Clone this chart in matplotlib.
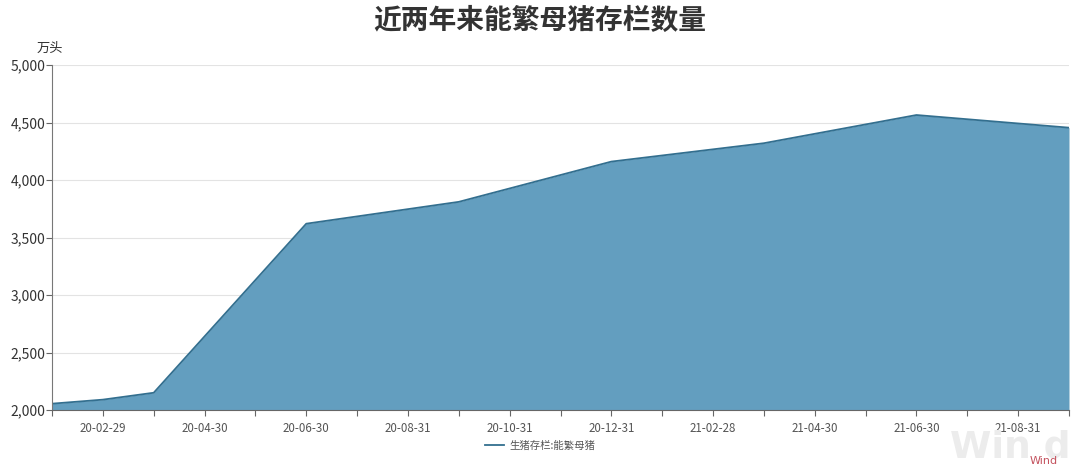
import matplotlib
import matplotlib.pyplot as plt
import numpy as np

matplotlib.use('Agg')

plt.rcParams['font.family'] = ['Noto Sans CJK SC', 'DejaVu Sans']

# month-end categories on the x axis
months = ['20-01-31', '20-02-29', '20-03-31', '20-04-30', '20-05-31', '20-06-30',
          '20-07-31', '20-08-31', '20-09-30', '20-10-31', '20-11-30', '20-12-31',
          '21-01-31', '21-02-28', '21-03-31', '21-04-30', '21-05-31', '21-06-30',
          '21-07-31', '21-08-31', '21-09-30']
# 万头, None where no data was published
sows = [2055, 2090, 2150, None, None, 3620,
        None, None, 3810, None, None, 4160,
        None, None, 4320, None, None, 4565,
        None, None, 4455]

title = '近两年来能繁母猪存栏数量'
seriesName = '生猪存栏:能繁母猪'
unit = '万头'
yTicks = [2000, 2500, 3000, 3500, 4000, 4500, 5000]

fillColor = '#639ebf'
lineColor = '#336f8f'


def main():
    xs = np.array([i for i, v in enumerate(sows) if v is not None])
    ys = np.array([v for v in sows if v is not None])

    fig = plt.figure(figsize=(10.8, 4.7), dpi=100)

    # watermark first so everything else draws over it
    fig.text(1010 / 1080, 1 - 447 / 470, 'Win d', fontsize=27, fontweight='bold', color='#ececec',
             ha='center', va='center', family='DejaVu Sans')

    ax = fig.add_axes([52 / 1080, 1 - 410 / 470, (1069 - 52) / 1080, (410 - 65) / 470])
    ax.patch.set_alpha(0)

    ax.fill_between(xs, ys, yTicks[0], color=fillColor, linewidth=0, zorder=2)
    line, = ax.plot(xs, ys, color=lineColor, linewidth=1.3, label=seriesName, zorder=3)

    ax.set_xlim(0, len(months) - 1)
    ax.set_ylim(yTicks[0], yTicks[-1])

    ax.set_xticks(range(len(months)))
    ax.set_xticklabels([m if i % 2 == 1 else '' for i, m in enumerate(months)])
    ax.set_yticks(yTicks)
    ax.set_yticklabels(['{:,}'.format(t) for t in yTicks])

    ax.tick_params(axis='x', length=4, width=0.8, color='#666666', labelsize=8.3,
                   labelcolor='#555555', pad=5)
    ax.tick_params(axis='y', length=4, width=0.8, color='#666666', labelsize=10,
                   labelcolor='#333333', pad=1)

    ax.grid(axis='y', color='#e3e3e3', linewidth=0.8, zorder=0)
    ax.set_axisbelow(True)
    for side in ['top', 'right']:
        ax.spines[side].set_visible(False)
    ax.spines['left'].set_color('#777777')
    ax.spines['bottom'].set_color('#666666')
    ax.spines['left'].set_zorder(4)
    ax.spines['bottom'].set_zorder(4)

    fig.text(50 / 1080, 1 - 48 / 470, unit, fontsize=9.5, color='#333333', ha='center', va='center')
    fig.text(540 / 1080, 1 - 21 / 470, title, fontsize=20, fontweight='bold', color='#333333',
             ha='center', va='center')

    fig.legend(handles=[line], loc='center', bbox_to_anchor=(540 / 1080, 1 - 446 / 470),
               frameon=False, fontsize=7.5, handlelength=1.8, handletextpad=0.5,
               labelcolor='#555555')

    fig.text(1044 / 1080, 1 - 461 / 470, 'Wind', fontsize=8, color='#c4525e', ha='center', va='center',
             family='DejaVu Sans')

    fig.savefig('out.png', dpi=100)
    plt.close(fig)


if __name__ == '__main__':
    main()
